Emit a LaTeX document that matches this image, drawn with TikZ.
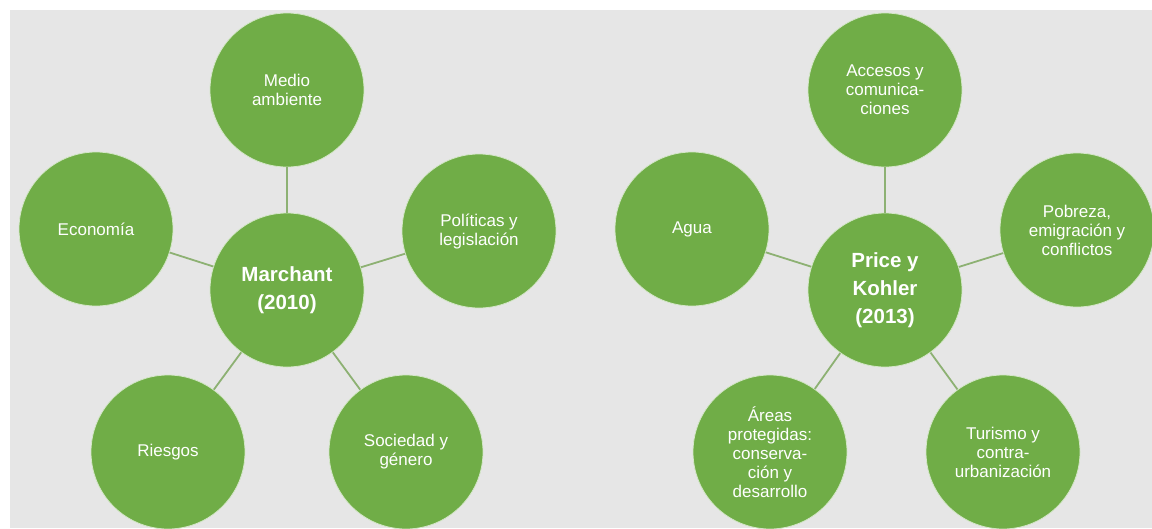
\documentclass[tikz,border=0pt]{standalone}
\usepackage{fontspec}
\setmainfont{Liberation Sans}
\definecolor{bggray}{HTML}{E6E6E6}
\definecolor{bubble}{HTML}{70AD47}
\definecolor{linkc}{HTML}{8DB173}
\begin{document}
\begin{tikzpicture}[x=1pt,y=-1pt,
  sat/.style={circle,minimum size=154pt,inner sep=0pt,fill=bubble,draw=white!70!bubble,line width=0.8pt,
    text=white,align=center,font=\fontsize{17}{19}\selectfont},
  hub/.style={sat,font=\fontsize{20.5}{28}\selectfont\bfseries},
  link/.style={draw=linkc,line width=1.8pt}]
\useasboundingbox (0,0) rectangle (1152,528);
\fill[bggray] (10,10) rectangle (1152,528);
% left group
\node[hub] (m) at (287,290) {Marchant\\(2010)};
\node[sat] (ma) at (287,90) {Medio\\ambiente};
\node[sat] (ec) at (96,229) {Economía};
\node[sat] (po) at (479,231) {Políticas y\\legislación};
\node[sat] (ri) at (168,452) {Riesgos};
\node[sat] (so) at (406,452) {Sociedad y\\género};
\foreach \t in {ma,ec,po,ri,so} \draw[link] (m) -- (\t);
% right group
\node[hub] (p) at (885,290) {Price y\\Kohler\\(2013)};
\node[sat] (ac) at (885,90) {Accesos y\\comunica-\\ciones};
\node[sat] (ag) at (692,229) {Agua};
\node[sat] (pb) at (1077,230) {Pobreza,\\emigración y\\conflictos};
\node[sat] (ar) at (770,452) {Áreas\\protegidas:\\conserva-\\ción y\\desarrollo};
\node[sat] (tu) at (1003,452) {Turismo y\\contra-\\urbanización};
\foreach \t in {ac,ag,pb,ar,tu} \draw[link] (p) -- (\t);
\end{tikzpicture}
\end{document}
